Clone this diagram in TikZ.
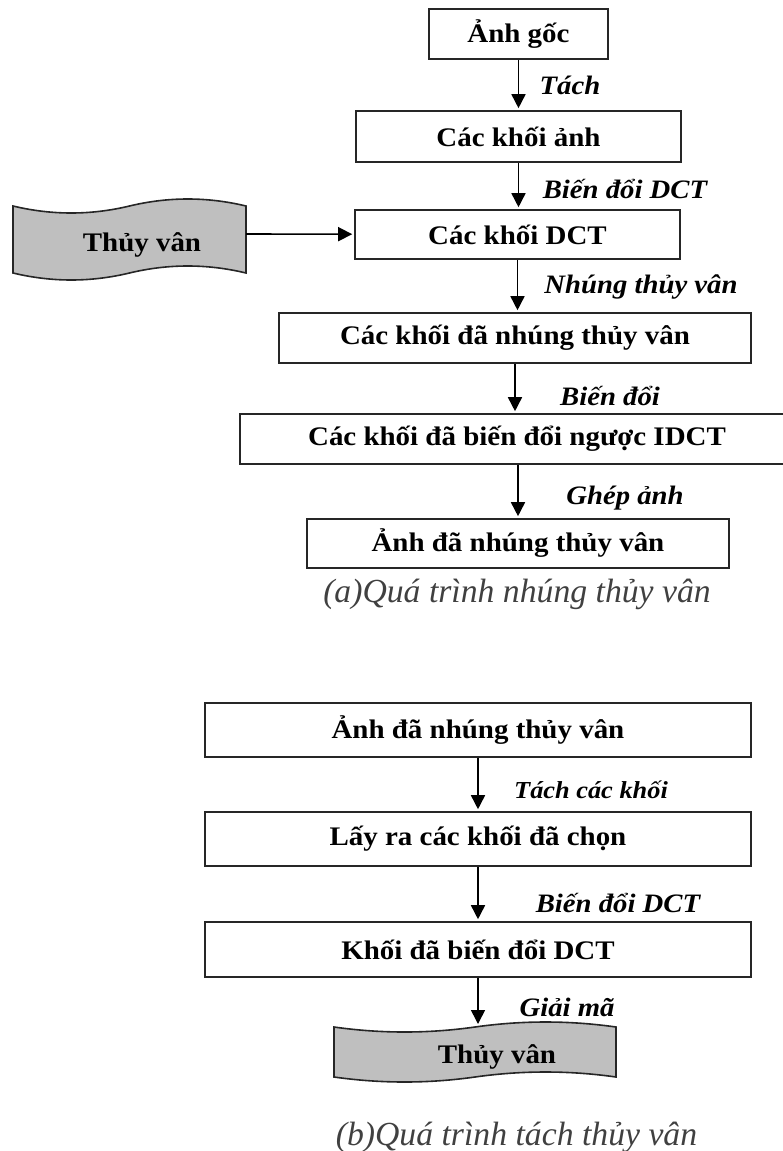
\documentclass[tikz,border=0pt]{standalone}
\usepackage{fontspec}
\setmainfont{Liberation Serif}
\newfontfamily\boxfont[FakeStretch=1.08]{Liberation Serif}
\usetikzlibrary{arrows.meta,calc}

% punched tape: left, top, right, bottom, bend
\newcommand{\wavetape}[5]{%
  \filldraw[tapefill]
    (#1,#2) .. controls ({#1+(#3-#1)/6},{#2+4*#5/3}) and ({#1+(#3-#1)/3},{#2+4*#5/3}) .. ({(#1+#3)/2},#2)
    .. controls ({#1+2*(#3-#1)/3},{#2-4*#5/3}) and ({#1+5*(#3-#1)/6},{#2-4*#5/3}) .. (#3,#2)
    -- (#3,#4)
    .. controls ({#1+5*(#3-#1)/6},{#4-4*#5/3}) and ({#1+2*(#3-#1)/3},{#4-4*#5/3}) .. ({(#1+#3)/2},#4)
    .. controls ({#1+(#3-#1)/3},{#4+4*#5/3}) and ({#1+(#3-#1)/6},{#4+4*#5/3}) .. (#1,#4) -- cycle;
}

\tikzset{
  stepbox/.style={draw=black!85, line width=1.6pt, fill=white, inner sep=0pt,
    font=\boxfont\bfseries\fontsize{26.8}{30}\selectfont},
  tapetext/.style={inner sep=0pt, font=\boxfont\bfseries\fontsize{26.8}{30}\selectfont},
  steplabel/.style={font=\boxfont\bfseries\itshape\fontsize{26.6}{30}\selectfont},
  caption/.style={anchor=base, text=black!75, font=\itshape\fontsize{33.7}{40}\selectfont},
  tapefill/.style={fill=black!25, draw=black!85, line width=1.6pt},
  flow/.style={-{Triangle[length=14pt,width=14pt]}, line width=1.6pt, shorten >=2pt}
}

\begin{document}
\begin{tikzpicture}[x=1pt,y=-1pt]
  \useasboundingbox (0,0) rectangle (782,1151);

  % (a) embedding
  \wavetape{13}{206}{246}{273}{7}
  \node[tapetext] (wm1) at (142,245) {Thủy vân};
  \coordinate (wm1out) at (246,234);

  \node[stepbox, minimum width=179, minimum height=50] (n1) at (518.5,34) {Ảnh gốc};
  \node[stepbox, minimum width=325, minimum height=51] (n2) at (518.5,136.5) {Các khối ảnh};
  \node[stepbox, minimum width=325, minimum height=49] (n3) at (517.5,234.5) {Các khối DCT};
  \node[stepbox, minimum width=472, minimum height=50] (n4) at (515,338) {Các khối đã nhúng thủy vân};
  \node[stepbox, minimum width=554, minimum height=50] (n5) at (517,439) {Các khối đã biến đổi ngược IDCT};
  \node[stepbox, minimum width=422, minimum height=49] (n6) at (518,543.5) {Ảnh đã nhúng thủy vân};

  \draw[flow] (n1) -- (n2);
  \draw[flow] (n2.south) -- (n2.south |- n3.north);
  \draw[flow] (n3.south) -- (n3.south |- n4.north);
  \draw[flow] (n4.south) -- (n4.south |- n5.north);
  \draw[flow] (n5.south -| n6.north) -- (n6.north);
  \draw[flow] (wm1out) -- (n3);

  \node[steplabel] (l1) at (570,85) {Tách};
  \node[steplabel] (l2) at (625,189) {Biến đổi DCT};
  \node[steplabel] (l3) at (641,287) {Nhúng thủy vân};
  \node[steplabel] (l4) at (610,396) {Biến đổi};
  \node[steplabel] (l5) at (625,498) {Ghép ảnh};

  \node[caption] (capa) at (517,602) {(a)Quá trình nhúng thủy vân};

  % (b) extraction
  \node[stepbox, minimum width=546, minimum height=54] (m1) at (478,730) {Ảnh đã nhúng thủy vân};
  \node[stepbox, minimum width=546, minimum height=54] (m2) at (478,839) {Lấy ra các khối đã chọn};
  \node[stepbox, minimum width=546, minimum height=55] (m3) at (478,949.5) {Khối đã biến đổi DCT};

  \wavetape{334}{1027}{616}{1077}{5}
  \node[tapetext] (wm2) at (497,1057) {Thủy vân};
  \coordinate (wm2in) at (479,1026);

  \draw[flow] (m1) -- (m2);
  \draw[flow] (m2) -- (m3);
  \draw[flow] (m3.south) -- (m3.south |- wm2in);

  \node[steplabel, font=\boxfont\bfseries\itshape\fontsize{24.4}{28}\selectfont] (k1) at (591,790) {Tách các khối};
  \node[steplabel] (k2) at (618,903) {Biến đổi DCT};
  \node[steplabel] (k3) at (567,1007) {Giải mã};

  \node[caption] (capb) at (516.5,1145) {(b)Quá trình tách thủy vân};
\end{tikzpicture}
\end{document}
